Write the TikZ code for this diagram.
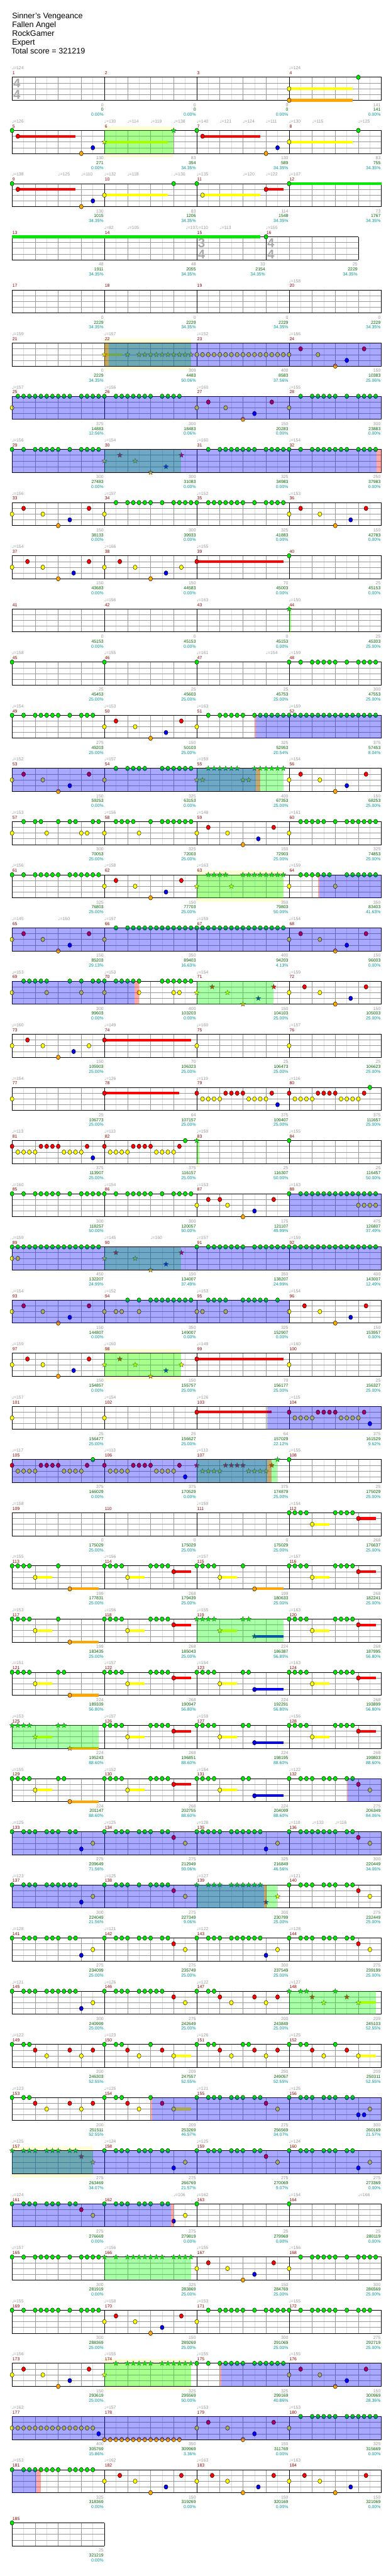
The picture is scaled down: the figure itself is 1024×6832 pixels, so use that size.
\documentclass[tikz,border=0pt]{standalone}
\usepackage{fontspec}
\setmainfont{Liberation Sans}
\newfontfamily\musicfont{DejaVu Sans}
\pgfdeclarelayer{bg}
\pgfdeclarelayer{fg}
\pgfsetlayers{bg,main,fg}

\definecolor{lane0}{HTML}{00E800}
\definecolor{lane1}{HTML}{FF0000}
\definecolor{lane2}{HTML}{FFFF00}
\definecolor{lane3}{HTML}{0000F0}
\definecolor{lane4}{HTML}{FFA500}
\definecolor{gridgray}{HTML}{9A9A9A}
\definecolor{gridlight}{HTML}{DDDDDD}
\definecolor{txtgray}{HTML}{999999}
\definecolor{tsgray}{HTML}{AAAAAA}
\definecolor{scoregreen}{HTML}{006600}
\definecolor{pctteal}{HTML}{009999}
\definecolor{measred}{HTML}{990000}
\definecolor{bandyellow}{HTML}{FFFFD5}
\definecolor{spblue}{HTML}{0000FF}
\definecolor{spgreen}{HTML}{00FF00}
\definecolor{sppink}{HTML}{FF0000}

% row and grid
\newcommand\rowat[1]{\def\rn{#1}\pgfmathsetmacro\ry{205+141*(#1-1)}}
\newcommand\grid[2]{%
  \foreach \b in {1,...,#1}{\draw[gridlight, line width=0.8pt] ({32+(\b-0.5)*61.25},\ry) -- ++(0,61);}
  \foreach \b in {0,...,#1}{\draw[gridgray, line width=0.8pt] ({32+\b*61.25},\ry) -- ++(0,61);}
  \foreach \l in {1,2,3}{\draw[gridgray, line width=1.1pt] (32,{\ry+15.25*\l}) -- ({32+#1*61.25},{\ry+15.25*\l});}
  \foreach \b in {#2}{\draw[black, line width=0.9pt] ({32+\b*61.25},\ry) -- ++(0,61);}
  \draw[black, line width=1.4pt] (32,\ry) -- ({32+#1*61.25},\ry) (32,{\ry+61}) -- ({32+#1*61.25},{\ry+61});}
\newcommand\mnums[2]{\foreach \b [count=\i from 0] in {#1}{\pgfmathtruncatemacro\mm{#2+\i}\node[mnum] (mn\mm) at ({33+\b*61.25},{\ry-7}) {\mm};}}
\newcommand\stdrow[1]{\rowat{#1}\grid{16}{0,4,8,12,16}\pgfmathtruncatemacro\fm{4*#1-3}\mnums{0,4,8,12}{\fm}}
\newcommand\tsig[3]{\node[tsigdigit] (ts\rn-#1a) at ({35+(#1)*61.25},{\ry+28}) {#2};
  \node[tsigdigit] (ts\rn-#1b) at ({35+(#1)*61.25},{\ry+58}) {#3};}

% texts
\newcommand\tempos[1]{\foreach \b/\v [count=\i] in {#1}{\node[tempo] (tp\rn-\i) at ({32+\b*61.25},{\ry-20}) {{\musicfont\fontsize{10}{12}\selectfont\char"2669}=\v};}}
\newcommand\scoreat[5]{%
  \node[sgray] (sg\rn-#1) at ({30+(#2)*61.25},{\ry+77}) {#3};
  \node[sgreen] (ss\rn-#1) at ({30+(#2)*61.25},{\ry+90}) {#4};
  \node[steal] (sp\rn-#1) at ({30+(#2)*61.25},{\ry+103}) {#5\%};}
\newcommand\scores[1]{\foreach \g/\s/\p [count=\i] in {#1}{\scoreat{\i}{\i*4}{\g}{\s}{\p}}}

% notes
\newcommand\notes[2]{\foreach \p in {#2}{\filldraw[notehead, fill=lane#1] ({32+(\p)*15.3125},{\ry+15.25*#1}) ellipse [x radius=5.2, y radius=6];}}
\newcommand\starat[3]{\filldraw[starhead, fill=#1, shift={({#2},{#3})}] (270:7) -- (306:2.9) -- (342:7) -- (18:2.9) -- (54:7) -- (90:2.9) -- (126:7) -- (162:2.9) -- (198:7) -- (234:2.9) -- cycle;}
\newcommand\stars[2]{\foreach \p in {#2}{\starat{lane#1}{32+(\p)*15.3125}{\ry+15.25*#1}}}
\newcommand\susbar[3]{\fill[lane#1] ({32+(#2)*15.3125},{\ry+15.25*#1-3.4}) rectangle ({32+(#3)*15.3125},{\ry+15.25*#1+3.4});}
\newcommand\hold[3]{\susbar{#1}{#2}{#3}\notes{#1}{#2}}
\newcommand\holdstar[3]{\susbar{#1}{#2}{#3}\stars{#1}{#2}}
\newcommand\patO[1]{\notes{0}{#1,#1+1,#1+2,#1+3,#1+8}\hold{2}{#1+4}{#1+7}\hold{4}{#1+10}{#1+15}}
\newcommand\patR[1]{\notes{0}{#1,#1+1,#1+2,#1+3,#1+8,#1+9,#1+10,#1+11}\hold{2}{#1+4}{#1+7}\hold{1}{#1+12}{#1+15}}
\newcommand\patB[1]{\notes{0}{#1,#1+1,#1+2,#1+3,#1+8,#1+9}\hold{2}{#1+4}{#1+7}\hold{3}{#1+10}{#1+15}}

% star power zones
\newcommand\zone[3]{\begin{pgfonlayer}{fg}\fill[#1, opacity=0.34] ({32+(#2)*15.3125},\ry) rectangle ({32+(#3)*15.3125},{\ry+61});\end{pgfonlayer}}
\newcommand\band[2]{\begin{pgfonlayer}{bg}\fill[bandyellow] ({32+(#1)*15.3125},{\ry-11}) rectangle ({32+(#2)*15.3125},{\ry+71});\end{pgfonlayer}}

\begin{document}
\begin{tikzpicture}[x=1pt, y=-1pt,
  notehead/.style={draw=black, line width=0.7pt},
  starhead/.style={draw=black!75, line width=0.5pt},
  smalltext/.style={inner sep=0pt, font=\fontsize{11.5}{13}\selectfont},
  tempo/.style={smalltext, anchor=base west, text=txtgray},
  mnum/.style={smalltext, anchor=base west, text=measred},
  sgray/.style={smalltext, anchor=base east, text=txtgray},
  sgreen/.style={smalltext, anchor=base east, text=scoregreen},
  steal/.style={smalltext, anchor=base east, text=pctteal},
  tsigdigit/.style={inner sep=0pt, anchor=base west, text=tsgray, font=\fontsize{34}{34}\selectfont\bfseries},
  title/.style={inner sep=0pt, anchor=base west, font=\fontsize{21}{23}\selectfont}]
\begin{pgfonlayer}{bg}\fill[white] (0,0) rectangle (1024,6832);\end{pgfonlayer}
\useasboundingbox (0,0) rectangle (1024,6832);

\node[title] (song) at (32,50) {Sinner's Vengeance};
\node[title] (artist) at (32,73) {Fallen Angel};
\node[title] (charter) at (32,96) {RockGamer};
\node[title] (level) at (32,119) {Expert};
\node[title] (total) at (30,142) {Total score = 321219};

% measures 1-4
\stdrow{1}\tsig{0}{4}{4}
\tempos{0/124,12/124}
\hold{2}{48}{59}\hold{4}{48}{59}\notes{0}{60}
\scores{0/0/0.00,0/0/0.00,0/0/0.00,141/141/0.00}

% measures 5-8
\stdrow{2}
\tempos{0/126,4/130,5/114,6/119,7/138,8/140,9/121,10/124,11/111,12/130,13/115,15/125}
\notes{0}{0,32,60}\hold{1}{1}{11}\hold{1}{33}{43}\notes{4}{12,44}\notes{3}{14,46}\hold{2}{48}{59}
\holdstar{2}{16}{27}\stars{0}{28}
\band{16}{28}\zone{spgreen}{16}{28}
\scores{130/271/0.00,83/354/34.35,130/589/34.35,83/755/34.35}

% measures 9-12
\stdrow{3}
\tempos{0/138,2/125,3/110,4/132,5/118,7/130,8/135,10/120,11/122,12/107}
\hold{1}{1}{11}\notes{4}{12}\notes{3}{14}\hold{2}{16}{27}\notes{0}{0,28,32}\hold{2}{33}{43}\hold{1}{44}{47}\hold{0}{48}{64}
\scores{130/1015/34.35,83/1206/34.35,114/1548/34.35,73/1767/34.35}

% measures 13-16
\rowat{4}\grid{15}{0,4,8,11,15}\mnums{0,4,8,11}{13}
\tsig{8}{3}{4}\tsig{11}{4}{4}
\tempos{4/82,5/105,7.53/107,8/110,9/113,11/155}
\susbar{0}{0}{43}\notes{0}{44}
\scoreat{1}{4}{48}{1911}{34.35}\scoreat{2}{8}{48}{2055}{34.35}\scoreat{3}{11}{33}{2154}{34.35}\scoreat{4}{15}{25}{2229}{34.35}

% measures 17-20
\stdrow{5}\tempos{12/158}
\scores{0/2229/34.35,0/2229/34.35,0/2229/34.35,0/2229/34.35}

% measures 21-24
\stdrow{6}\tempos{0/159,4/157,8/152,12/156}
\holdstar{2}{16}{19}\stars{2}{20}\stars{2}{22,...,31}
\notes{2}{32,...,48}\notes{2}{53}\notes{1}{50,61}\notes{4}{56}\notes{3}{58}
\band{16}{31}\zone{spgreen}{16}{31}\zone{sppink}{16}{16.8}\zone{spblue}{16.8}{64}
\scores{0/2229/34.35,309/4483/50.06,400/8583/37.56,150/10383/25.06}

% measures 25-28
\stdrow{7}\tempos{0/157,4/156,8/160,12/155}
\notes{2}{0,32,37,48}\notes{0}{1,...,10}\notes{0}{12,...,16}\notes{0}{18,...,24}\notes{0}{26,...,29}
\notes{1}{34,45}\notes{4}{40}\notes{3}{42}\notes{0}{50}\notes{0}{52,...,56}\notes{0}{58}\notes{0}{60,...,63}
\zone{spblue}{0}{64}
\scores{375/14883/12.56,300/18483/0.06,150/20283/0.00,300/23883/0.00}

% measures 29-32
\stdrow{8}\tempos{0/156,4/154,8/160,12/154}
\notes{0}{0,2}\notes{0}{4,...,8}\notes{0}{10}\notes{0}{12,...,15}
\stars{2}{16,21.33}\stars{1}{18.67,29.33}\stars{4}{24}\stars{3}{26.67}
\notes{0}{34}\notes{0}{36,...,42}\notes{0}{44,...,48}\notes{0}{50}\notes{0}{52,...,58}\notes{0}{60,...,63}
\zone{spgreen}{16}{29.3}\zone{spblue}{0}{63.2}\zone{sppink}{63.2}{64}
\scores{300/27483/0.00,300/31083/0.00,325/34983/0.00,250/37983/0.00}

% measures 33-36
\stdrow{9}\tempos{0/156,4/157,8/152,12/153}
\notes{2}{0,5.33,16,48,53.33}\notes{1}{2,13.33,50,61.33}\notes{4}{8,56}\notes{3}{10,58.67}
\notes{0}{18}\notes{0}{20,...,24}\notes{0}{26}\notes{0}{28,...,32}\notes{0}{34,...,40}\notes{0}{42}\notes{0}{44,...,47}
\scores{150/38133/0.00,300/39933/0.00,325/41883/0.00,150/42783/0.00}

% measures 37-40
\stdrow{10}\tempos{0/154,4/166,8/155}
\notes{2}{0,5.33,16,21.33,29.33}\notes{1}{2.67,13.33,18.67}\notes{4}{8,24}\notes{3}{10.67,26.67}\hold{1}{32}{47}\notes{0}{48}
\scores{150/43683/0.00,150/44583/0.00,70/45003/0.00,25/45153/0.00}

% measures 41-44
\stdrow{11}\tempos{4/156,8/163,12/150}
\band{48}{48.35}\stars{0}{48}\zone{spgreen}{48}{48.35}
\scores{0/45153/0.00,0/45153/0.00,0/45153/0.00,25/45303/25.00}

% measures 45-48
\stdrow{12}\tempos{0/158,4/155,8/161,11/154,12/159}
\notes{0}{0,16,32,48,50}\notes{0}{52,...,56}\notes{0}{58}\notes{0}{60,...,63}
\scores{25/45453/25.00,25/45603/25.00,25/45753/25.00,300/47553/25.00}

% measures 49-52
\stdrow{13}\tempos{0/154,4/153,8/163,12/159}
\notes{0}{0,2}\notes{0}{4,...,8}\notes{0}{10,12,13,14,34}\notes{0}{36,...,40}\notes{0}{42,...,63}
\notes{2}{16,21.33,32}\notes{1}{18,29.33}\notes{4}{24}\notes{3}{26.67}
\zone{sppink}{42}{42.2}\zone{spblue}{42.2}{64}
\scores{275/49203/25.00,150/50103/25.00,325/52953/20.54,375/57453/8.04}

% measures 53-56
\stdrow{14}\tempos{0/152,4/157,8/159,12/154}
\notes{2}{0,5.33,16,48,53.33}\notes{1}{2,13.33,50,61.33}\notes{4}{8,56}\notes{3}{10,58}
\notes{0}{18}\notes{0}{20,...,23}\notes{0}{26,...,31}
\stars{0}{34,...,39}\stars{0}{42,...,47}\stars{2}{32,33,40,41}
\zone{spgreen}{32}{47}\zone{spblue}{0}{42.2}\zone{sppink}{42.2}{43}
\scores{150/59253/0.00,325/63153/0.00,400/67353/25.00,150/68253/25.00}

% measures 57-60
\stdrow{15}\tempos{0/153,4/156,8/148,12/161}
\notes{2}{0,6,12,13,16,22,32,37.33,48}
\notes{0}{2,4,5,8,10,11,14,15}\notes{0}{18,...,21}\notes{0}{24}\notes{0}{26,...,31}\notes{0}{50,...,54}\notes{0}{56}\notes{0}{58,...,63}
\notes{1}{34,45.33}\notes{4}{40}\notes{3}{42.67}
\scores{300/70053/25.00,325/72003/25.00,150/72903/25.00,325/74853/25.00}

% measures 61-64
\stdrow{16}\tempos{0/156,4/158,8/163,12/159}
\notes{0}{0,2}\notes{0}{4,...,8}\notes{0}{10,...,15}\notes{0}{50,...,55}\notes{0}{58,...,63}
\notes{2}{16,21.33,48,56}\notes{1}{18,29.33}\notes{4}{24}\notes{3}{26.67}
\stars{2}{32,38}\stars{0}{34,...,37}\stars{0}{40,...,47}
\band{32}{47}\zone{spgreen}{32}{47}\zone{sppink}{53}{53.2}\zone{spblue}{53.2}{64}
\scores{325/76803/25.00,150/77703/25.00,350/79803/50.00,350/83403/41.63}

% measures 65-68
\stdrow{17}\tempos{0/145,2/160,4/157,8/159,12/154}
\notes{2}{0,5.33,16,48,53.33}\notes{1}{2,13.33,50,61.33}\notes{4}{8,56}\notes{3}{10,58}\notes{0}{18}\notes{0}{20,...,47}
\zone{spblue}{0}{64}
\scores{150/85203/29.13,350/89403/16.63,400/94203/4.13,150/96003/0.00}

% measures 69-72
\stdrow{18}\tempos{0/153,4/153,8/154,12/159}
\notes{0}{2,...,6}\notes{0}{10,12,14,15,16}\notes{0}{18,...,22}\notes{0}{26,...,31}
\notes{2}{0,6,12,16,22,28,29,48,53.33}\notes{1}{50.67,61.33}\notes{4}{56}\notes{3}{58.67}
\stars{2}{32,37.33}\stars{1}{34.67,45.33}\stars{4}{40}\stars{3}{42.67}
\zone{spblue}{0}{21.2}\zone{sppink}{21.2}{22}\zone{spgreen}{32}{45.3}
\scores{300/99603/0.00,400/103203/0.00,150/104103/25.00,150/105003/25.00}

% measures 73-76
\stdrow{19}\tempos{0/160,4/149,8/160,12/157}
\notes{2}{0,5.33,13.33,32,48}\notes{1}{2.67}\notes{4}{8}\notes{3}{10.67}\hold{1}{16}{31}
\scores{150/105903/25.00,70/106323/25.00,25/106473/25.00,25/106623/25.00}

% measures 77-80
\stdrow{20}\tempos{0/154,4/126,8/119,12/116}
\hold{1}{16}{29}\notes{1}{32,37,38,39,40,45,48,53,54,55,56,61}\notes{0}{62}
\notes{2}{0,33,34,35,36,41,42,43,44,49,50,51,52,57,58,59,60}\notes{3}{46}
\scores{25/106773/25.00,64/107157/25.00,375/109407/25.00,375/111657/25.00}

% measures 81-84
\stdrow{21}\tempos{0/113,4/113,8/159,12/155}
\notes{1}{0,5,6,7,8,13,16,21,22,23,24,29}\notes{2}{1,2,3,4,9,10,11,12,17,18,19,20,25,26,27,28}\notes{3}{14}\notes{0}{30,48}
\band{32}{32.4}\stars{0}{32}\zone{spgreen}{32}{32.4}
\scores{375/113907/25.00,375/116157/25.00,25/116307/50.00,25/116457/50.00}

% measures 85-88
\stdrow{22}\tempos{0/160,4/154,8/153,12/163}
\notes{0}{0,2}\notes{0}{4,...,8}\notes{0}{10}\notes{0}{12,...,16}\notes{0}{18}\notes{0}{20,...,24}\notes{0}{26}\notes{0}{28,...,31}\notes{0}{48}\notes{0}{50,...,63}
\notes{2}{32,37.33,60,61,62,63}\notes{1}{34,36,45.33}\notes{4}{40}\notes{3}{42}
\zone{spblue}{48}{64}
\scores{300/118257/50.00,300/120057/50.00,175/121107/49.99,475/126807/37.49}

% measures 89-92
\stdrow{23}\tempos{0/159,4/145,6/160,8/157,12/159}
\notes{2}{0,1}\notes{0}{0,...,15}\stars{2}{16,21.33}\stars{1}{18,29.33}\stars{4}{24}\stars{3}{26.67}
\notes{0}{32}\notes{0}{34,...,40}\notes{0}{42,...,63}
\zone{spgreen}{16}{29.3}\zone{spblue}{0}{64}
\scores{450/132207/24.99,150/134007/37.49,350/138207/24.99,400/143007/12.49}

% measures 93-96
\stdrow{24}\tempos{0/154,4/152,8/153,12/154}
\notes{2}{0,5.33,16,18,19,22,32,33,37,48,53.33}\notes{1}{2,13.33,50.67,61.33}\notes{4}{8,56}\notes{3}{10,58.67}
\notes{0}{20,22}\notes{0}{24,...,31}\notes{0}{34,...,37}\notes{0}{40,...,44}\notes{0}{46}
\zone{spblue}{0}{48}
\scores{150/144807/0.00,350/149007/0.00,325/152907/0.00,150/153957/0.00}

% measures 97-100
\stdrow{25}\tempos{0/159,4/160,8/149,12/160}
\notes{2}{0,5.33,48}\notes{1}{2.67,13.33}\notes{4}{8}\notes{3}{10.67}
\stars{2}{16,21.33,29.33}\stars{1}{18.67}\stars{4}{24}\stars{3}{26.67}\hold{1}{32}{47}
\band{16}{29.3}\zone{spgreen}{16}{29.3}
\scores{150/154857/0.00,150/155757/25.00,70/156177/25.00,25/156327/25.00}

% measures 101-104
\stdrow{26}\tempos{0/157,4/154,8/126,12/115}
\notes{2}{0,16,49,50,51,52,57,58,59,60}\hold{1}{32}{45}\notes{1}{48,53,54,55,56,61}\notes{3}{62}
\zone{spblue}{44.2}{64}
\scores{25/156477/25.00,25/156627/25.00,64/157029/22.12,375/161529/9.62}

% measures 105-108
\stdrow{27}\tempos{0/117,4/113,8/113,12/155}
\notes{1}{0,5,6,7,8,13,16,21,22,23,24,29}\notes{2}{1,2,3,4,9,10,11,12,17,18,19,20,25,26,27,28}\notes{0}{14,48}\notes{3}{30}
\stars{1}{32,37,38,39,40,45}\stars{2}{33,34,35,36,41,42,43,44}\stars{0}{46}
\zone{spgreen}{32}{46}\zone{spblue}{0}{44.2}\zone{sppink}{44.2}{45}
\scores{375/166029/0.00,375/170529/0.00,375/174879/25.00,25/175029/25.00}

% measures 109-112
\stdrow{28}\tempos{0/158,8/159,12/154}
\notes{0}{48,49,50,51,56,57,58,59}\hold{2}{52}{55}\hold{1}{60}{63}
\scores{0/175029/25.00,0/175029/25.00,0/175029/25.00,268/176637/25.00}

% measures 113-116
\stdrow{29}\tempos{0/155,4/156,8/157,12/157}
\patO{0}\patR{16}\patO{32}\patR{48}
\scores{199/177831/25.00,268/179439/25.00,199/180633/25.00,268/182241/25.00}

% measures 117-120
\stdrow{30}\tempos{0/153,4/156,8/155,12/163}
\patO{0}\patR{16}\patR{48}
\stars{0}{32,33,34,35,40,41}\holdstar{2}{36}{39}\holdstar{3}{42}{47}
\zone{spgreen}{32}{47}
\scores{199/183435/25.00,268/185043/25.00,224/186387/56.80,268/187995/56.80}

% measures 121-124
\stdrow{31}\tempos{0/151,4/157,8/154,12/163}
\patO{0}\notes{0}{9}\patR{16}\patB{32}\patR{48}
\scores{224/189339/56.80,268/190947/56.80,224/192291/56.80,268/193899/56.80}

% measures 125-128
\stdrow{32}\tempos{0/153,4/157,8/159,12/156}
\stars{0}{0,1,2,3,8,9}\holdstar{2}{4}{7}\holdstar{4}{10}{15}\patR{16}\patB{32}\patR{48}
\zone{spgreen}{0}{15}
\scores{224/195243/88.60,268/196851/88.60,224/198195/88.60,268/199803/88.60}

% measures 129-132
\stdrow{33}\tempos{0/155,4/152,8/154,12/122}
\patO{0}\notes{0}{9}\patR{16}\patB{32}
\notes{0}{48,50,51,52,54,55,56,58,59}\notes{1}{60}\notes{2}{62}
\zone{sppink}{58}{58.2}\zone{spblue}{58.2}{64}
\scores{224/201147/88.60,268/202755/88.60,224/204099/88.60,275/206349/84.06}

% measures 133-136
\stdrow{34}\tempos{0/125,4/125,8/128,12/118,13/133,14/118}
\notes{0}{0,2,3,4,6,7,8,10,11,16,18,19,20,22,23,24,26,27,32,33,34,35,36,38,39,40,41,42,43,48,50,51,52,53,54,55,56,58,59}
\notes{1}{28,60}\notes{2}{14,30,46,62}\notes{3}{12,44}
\zone{spblue}{0}{64}
\scores{275/209649/71.56,275/212949/59.06,325/216849/46.56,300/220449/34.06}

% measures 137-140
\stdrow{35}\tempos{0/123,4/125,8/127,12/121}
\notes{0}{0,2,3,4,6,7,8,9,10,11,16,18,19,20,22,24,25,26,27,48,50,51,52,54,55,56,58,59}
\notes{3}{12}\notes{2}{14,30,62}\notes{1}{28,60}
\stars{0}{32,34,35,36,38,39,40,41,42,43}\stars{3}{44}\stars{2}{46}
\zone{spgreen}{32}{46}\zone{spblue}{0}{43.7}\zone{sppink}{43.7}{44.1}
\scores{300/224049/21.56,275/227349/9.06,300/230799/25.00,275/232449/25.00}

% measures 141-144
\stdrow{36}\tempos{0/128,4/121,8/122,12/128}
\notes{0}{0,2,3,4,6,7,8,10,11,16,18,19,20,22,23,24,26,27,32,34,35,36,38,39,40,41,42,43,48,50,51,52,54,55,56,58,59}
\notes{3}{12,44}\notes{2}{14,30,46,62}\notes{1}{28,60}
\scores{275/234099/25.00,275/235749/25.00,300/237549/25.00,275/239199/25.00}

% measures 145-148
\stdrow{37}\tempos{0/121,4/126,8/122,12/127}
\notes{0}{0,2,3,4,6,7,8,9,10,11,16,18,19,20,22,23,24,25,26,32,34,35}
\notes{3}{12}\notes{2}{14,30,38,44}\notes{1}{28,36,42,46}
\stars{0}{48,50,51,56}\stars{1}{52,58}\stars{2}{54}\holdstar{2}{60}{63}
\zone{spgreen}{48}{63}
\scores{300/240999/25.00,275/242649/25.00,200/243849/25.00,209/245103/52.55}

% measures 149-152
\stdrow{38}\tempos{0/122,4/123,8/126,12/125}
\notes{0}{0,2,3,16,18,19,24,32,34,35,40,41,48,50,51,56}
\notes{1}{4,10,14,20,26,36,42,46,52,58}\notes{2}{6,12,22,38,44,54}\hold{2}{28}{31}\hold{2}{60}{63}
\scores{200/246303/52.55,209/247557/52.55,250/249057/52.55,209/250311/52.55}

% measures 153-156
\stdrow{39}\tempos{0/123,4/125,8/121,12/125}
\notes{0}{0,2,3,16,18,19,24,32,34,35,36,38,39,40,42,43,48,50,51,52,54,55,56,58,59}
\notes{1}{4,10,14,20,26,44}\notes{2}{6,12,22,46,62}\hold{2}{28}{31}\notes{3}{60,61}
\zone{sppink}{24}{24.25}\zone{spblue}{24.25}{64}
\scores{200/251511/52.55,209/253269/46.57,275/256569/34.07,300/260169/21.57}

% measures 157-160
\stdrow{40}\tempos{0/125,4/124,8/125,12/124}
\stars{0}{0,2,3,4,6,7,8,10,11}\stars{1}{12}\stars{2}{14}
\notes{0}{16,18,19,20,22,23,24,26,27,32,34,35,36,38,39,40,42,43,48,50,51,52,54,55,56,58,59}
\notes{3}{28,60}\notes{2}{30,46,62}\notes{1}{44}
\band{0}{14}\zone{spgreen}{0}{14}\zone{spblue}{0}{64}
\scores{275/263469/34.07,275/266769/21.57,275/270069/9.07,275/273369/0.00}

% measures 161-164
\stdrow{41}\tempos{0/124,7/106,8/162,12/154,15/166}
\notes{0}{0,2,3,4,6,7,8,10,11,16,18,19,20,22,23,24,26,27,32,48}
\notes{1}{12}\notes{2}{14,30}\notes{3}{28}
\zone{spblue}{0}{27.5}\zone{sppink}{27.5}{28}
\scores{275/276669/0.00,275/279819/0.00,25/279969/0.00,25/280119/0.00}

% measures 165-168
\stdrow{42}\tempos{0/157,4/156,8/155,12/156}
\notes{0}{0,2,4,5,6,7,8,10,12,13,14,15,50,52,53,54,55,56,58,60,61,62,63}
\stars{0}{16,18,20,21,22,23,24,25,26,28,29,30,31}
\notes{2}{32,37.33,48}\notes{1}{34,45.33}\notes{4}{40}\notes{3}{42}
\zone{spgreen}{16}{31}
\scores{300/281919/0.00,325/283869/25.00,150/284769/25.00,300/286569/25.00}

% measures 169-172
\stdrow{43}\tempos{0/155,4/158,8/153,12/155}
\notes{0}{0,2,4,5,6,7,8,10,12,13,14,15,34,36,37,38,39,40,42,44,45,46,47,48,50,52,53,54,55,56,58,60,61,62}
\notes{2}{16,21.33,32}\notes{1}{18,29.33}\notes{4}{24}\notes{3}{26}
\scores{300/288369/25.00,150/289269/25.00,300/291069/25.00,275/292719/25.00}

% measures 173-176
\stdrow{44}\tempos{0/156,4/155,8/155,12/155}
\notes{2}{0,5.33,48,53.33}\notes{1}{2,13.33,50,61.33}\notes{4}{8,56}\notes{3}{10,58}
\stars{2}{16}\stars{0}{18,20,21,22,23,24,26,27,28,29,30,31}
\notes{0}{32,34,36,37,38,39,40,42,43,44,45,46,47}
\band{16}{31}\zone{spgreen}{16}{31}\zone{sppink}{36}{36.2}\zone{spblue}{36.2}{64}
\scores{150/293619/25.00,325/295569/50.00,325/299169/40.86,150/300969/28.36}

% measures 177-180
\stdrow{45}\tempos{0/162,4/157,8/153,12/153}
\notes{2}{0,...,14}\notes{2}{32,37.33,48}\notes{3}{15,42}\notes{4}{16,...,29}\notes{4}{40}\notes{1}{34,45.33}
\notes{0}{50,52,53,54,55,56,58,59,60,61,62,63}
\zone{spblue}{0}{64}
\scores{400/305769/15.86,350/309969/3.36,150/311769/0.00,325/315669/0.00}

% measures 181-184
\stdrow{46}\tempos{0/153,4/162,8/163,12/163}
\notes{0}{0,2,3,4,5,6,7,8,10,11,12,13,14}
\notes{2}{16,21.33,32,37.33,48,53.33}\notes{1}{18.67,29.33,34.67,45.33,50.67,61.33}\notes{4}{24,40,56}\notes{3}{26.67,42.67,58.67}
\zone{spblue}{0}{4.2}\zone{sppink}{4.2}{5}
\scores{325/318369/0.00,150/319269/0.00,150/320169/0.00,150/321069/0.00}

% measure 185
\rowat{47}\grid{4}{0,4}\mnums{0}{185}
\notes{0}{0}
\scoreat{1}{4}{25}{321219}{0.00}
\end{tikzpicture}
\end{document}
